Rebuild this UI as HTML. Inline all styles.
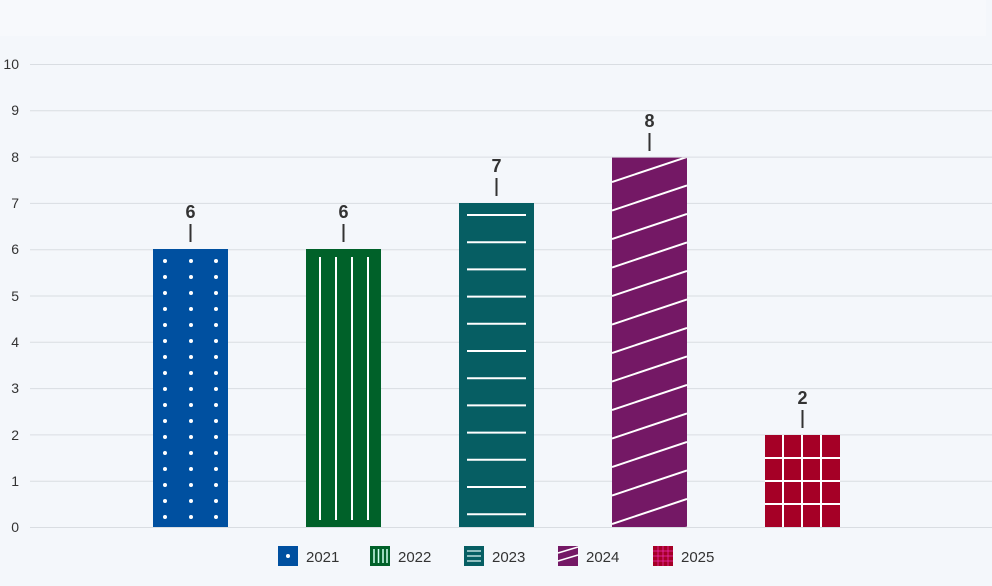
<!DOCTYPE html>
<html><head><style>
body{margin:0;background:#f4f7fb;}
svg{display:block;font-family:"Liberation Sans","DejaVu Sans",sans-serif;}
</style></head><body>
<svg width="992" height="586" viewBox="0 0 992 586">
<defs>
<clipPath id="c4"><rect x="612" y="157.6" width="75" height="369.4"/></clipPath>
</defs>
<rect width="992" height="586" fill="#f4f7fb"/>
<rect width="986" height="36" fill="#f7f9fc"/>
<g stroke="#d9dde2" stroke-width="1">
<line x1="30" x2="992" y1="527.5" y2="527.5"/>
<line x1="30" x2="992" y1="481.2" y2="481.2"/>
<line x1="30" x2="992" y1="434.9" y2="434.9"/>
<line x1="30" x2="992" y1="388.6" y2="388.6"/>
<line x1="30" x2="992" y1="342.3" y2="342.3"/>
<line x1="30" x2="992" y1="296" y2="296"/>
<line x1="30" x2="992" y1="249.7" y2="249.7"/>
<line x1="30" x2="992" y1="203.4" y2="203.4"/>
<line x1="30" x2="992" y1="157.1" y2="157.1"/>
<line x1="30" x2="992" y1="110.8" y2="110.8"/>
<line x1="30" x2="992" y1="64.5" y2="64.5"/>
</g>
<g font-size="14" fill="#333" text-anchor="end">
<text x="19" y="532">0</text><text x="19" y="486">1</text><text x="19" y="440">2</text>
<text x="19" y="393">3</text><text x="19" y="347">4</text><text x="19" y="301">5</text>
<text x="19" y="254">6</text><text x="19" y="208">7</text><text x="19" y="162">8</text>
<text x="19" y="115">9</text><text x="19" y="69">10</text>
</g>
<!-- bar 1 -->
<rect x="153" y="249" width="75" height="278" fill="#0050a0"/>
<g fill="#fff" id="dots"></g>
<!-- bar 2 -->
<rect x="306" y="249" width="75" height="278" fill="#006129"/>
<g stroke="#fff" stroke-width="2"><line x1="320" x2="320" y1="257" y2="520"/><line x1="336" x2="336" y1="257" y2="520"/><line x1="352" x2="352" y1="257" y2="520"/><line x1="368" x2="368" y1="257" y2="520"/></g>
<!-- bar 3 -->
<rect x="459" y="203" width="75" height="324" fill="#065e63"/>
<g stroke="#fff" stroke-width="2" id="hl"></g>
<!-- bar 4 -->
<rect x="612" y="157.6" width="75" height="369.4" fill="#741865"/>
<g stroke="#fff" stroke-width="2" clip-path="url(#c4)" id="dg"></g>
<!-- bar 5 -->
<rect x="765" y="435" width="75" height="92" fill="#a50026"/>
<g stroke="#fff" stroke-width="2"><line x1="783" x2="783" y1="435" y2="527"/><line x1="802" x2="802" y1="435" y2="527"/><line x1="821" x2="821" y1="435" y2="527"/><line x1="765" x2="840" y1="458" y2="458"/><line x1="765" x2="840" y1="481" y2="481"/><line x1="765" x2="840" y1="504" y2="504"/></g>
<!-- labels -->
<g stroke="#333" stroke-width="2"><line x1="190.5" x2="190.5" y1="224" y2="242"/><line x1="343.5" x2="343.5" y1="224" y2="242"/><line x1="496.5" x2="496.5" y1="178" y2="196"/><line x1="649.5" x2="649.5" y1="133" y2="151"/><line x1="802.5" x2="802.5" y1="410" y2="428"/></g>
<g font-size="18" font-weight="bold" fill="#333" text-anchor="middle">
<text x="190.5" y="218">6</text><text x="343.5" y="218">6</text><text x="496.5" y="172">7</text><text x="649.5" y="127">8</text><text x="802.5" y="404">2</text>
</g>
<!-- legend -->
<rect x="278" y="546" width="20" height="20" fill="#0050a0"/><circle cx="288" cy="556" r="2" fill="#fff"/>
<text x="306" y="562" font-size="15" fill="#333">2021</text>
<rect x="370" y="546" width="20" height="20" fill="#006129"/>
<g stroke="#cfe" stroke-width="1.5"><line x1="374" x2="374" y1="549" y2="563"/><line x1="378.5" x2="378.5" y1="549" y2="563"/><line x1="383" x2="383" y1="549" y2="563"/><line x1="387" x2="387" y1="549" y2="563"/></g>
<text x="398" y="562" font-size="15" fill="#333">2022</text>
<rect x="464" y="546" width="20" height="20" fill="#065e63"/>
<g stroke="#bdd" stroke-width="1.5"><line x1="467" x2="481" y1="551" y2="551"/><line x1="467" x2="481" y1="556" y2="556"/><line x1="467" x2="481" y1="561" y2="561"/></g>
<text x="492" y="562" font-size="15" fill="#333">2023</text>
<rect x="558" y="546" width="20" height="20" fill="#741865"/>
<g stroke="#fff" stroke-width="1.5"><line x1="558" x2="578" y1="553" y2="547"/><line x1="558" x2="578" y1="561" y2="555"/></g>
<text x="586" y="562" font-size="15" fill="#333">2024</text>
<rect x="653" y="546" width="20" height="20" fill="#a50026"/>
<g stroke="#f3c" stroke-opacity=".6" stroke-width="1"><line x1="658" x2="658" y1="546" y2="566"/><line x1="663" x2="663" y1="546" y2="566"/><line x1="668" x2="668" y1="546" y2="566"/><line x1="653" x2="673" y1="551" y2="551"/><line x1="653" x2="673" y1="556" y2="556"/><line x1="653" x2="673" y1="561" y2="561"/></g>
<text x="681" y="562" font-size="15" fill="#333">2025</text>
</svg>
<script>
var ns="http://www.w3.org/2000/svg";
function el(p,t,a){var e=document.createElementNS(ns,t);for(var k in a)e.setAttribute(k,a[k]);document.getElementById(p).appendChild(e);}
for(var y=261;y<=520;y+=16)[165,191,216].forEach(function(x){el("dots","circle",{cx:x,cy:y,r:2});});
for(var y=215;y<=520;y+=27.2)el("hl","line",{x1:467,x2:526,y1:y,y2:y});
for(var y=100;y<=560;y+=28.5)el("dg","line",{x1:612,x2:687,y1:y+25,y2:y});
</script>
</body></html>
